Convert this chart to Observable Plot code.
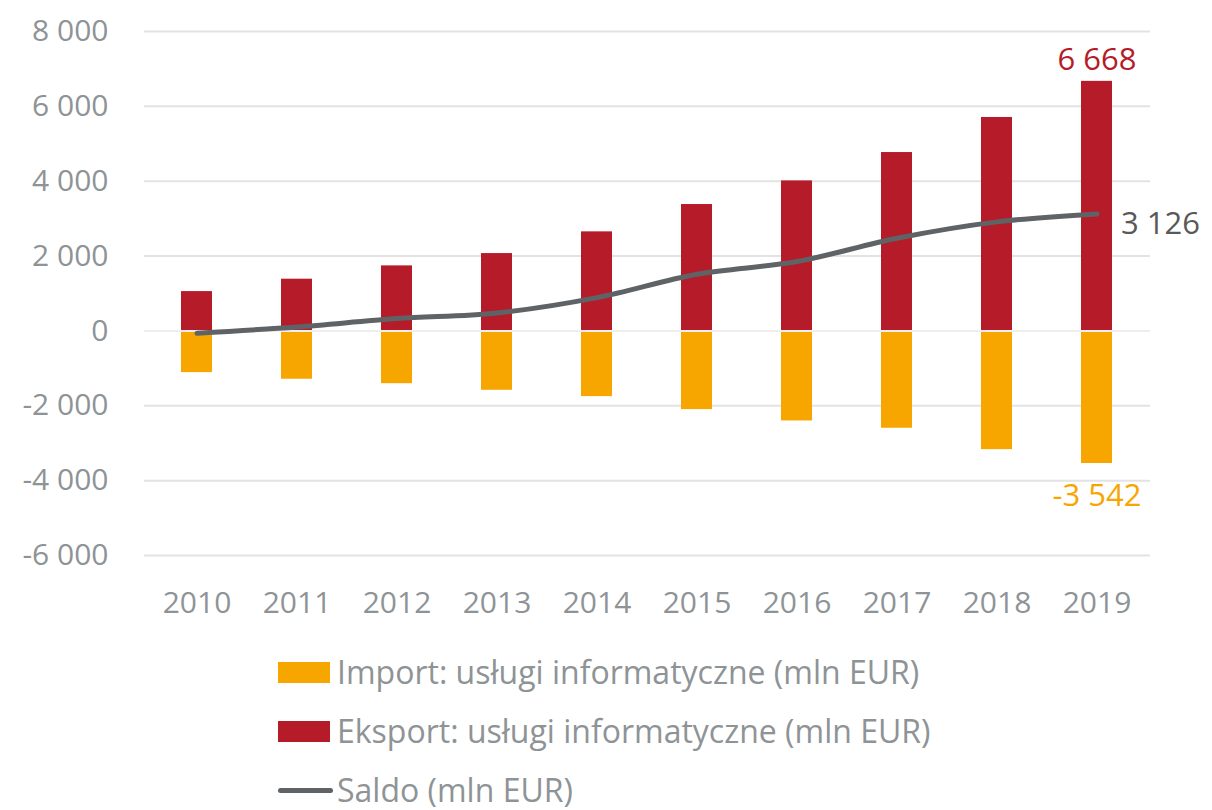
<!DOCTYPE html>
<html>
<head>
<meta charset="utf-8">
<script src="https://cdn.jsdelivr.net/npm/d3@7"></script>
<script src="https://cdn.jsdelivr.net/npm/@observablehq/plot@0.6"></script>
<style>
  html, body { margin: 0; padding: 0; background: #fff; }
  body { width: 1212px; height: 810px; position: relative; overflow: hidden; font-family: "Open Sans", Lato, sans-serif; }
  #chart { position: absolute; left: 0; top: 0; }
  .legend { position: absolute; left: 278px; top: 652px; color: #8e9396; font-size: 32px; font-family: "Open Sans", Lato, sans-serif; }
  .item { display: flex; align-items: center; height: 40px; margin-bottom: 19px; white-space: nowrap; line-height: 40px; }
  .sw { width: 52px; height: 21px; margin-right: 7px; flex: none; }
  .ln { width: 55px; height: 5px; border-radius: 3px; background: #5f6366; margin-right: 4px; flex: none; }
</style>
</head>
<body>
<div id="chart"></div>
<div class="legend">
  <div class="item"><span class="sw" style="background:#F7A600"></span><span>Import: usługi informatyczne (mln EUR)</span></div>
  <div class="item"><span class="sw" style="background:#B51B29"></span><span>Eksport: usługi informatyczne (mln EUR)</span></div>
  <div class="item"><span class="ln"></span><span>Saldo (mln EUR)</span></div>
</div>
<script>
const years = ["2010","2011","2012","2013","2014","2015","2016","2017","2018","2019"];
const eksport = [1051, 1382, 1738, 2067, 2647, 3377, 4008, 4766, 5703, 6668];
const importVals = [-1114, -1291, -1409, -1586, -1755, -2102, -2405, -2600, -3172, -3542];
const saldo = [-62, 107, 329, 481, 891, 1515, 1853, 2477, 2914, 3126];
const yTicks = [-6000, -4000, -2000, 0, 2000, 4000, 6000, 8000];

const fmt = v => d3.format(",")(v).replace(/,/g, " ").replace("−", "-");

const exp = years.map((y, i) => ({year: y, value: eksport[i]}));
const imp = years.map((y, i) => ({year: y, value: importVals[i]}));
const sal = years.map((y, i) => ({year: y, value: saldo[i]}));
const last = years.length - 1;

const chart = Plot.plot({
  width: 1212,
  height: 640,
  marginLeft: 144,
  marginRight: 62,
  marginTop: 31,
  marginBottom: 85,
  style: {fontFamily: "'Open Sans', Lato, sans-serif", fontSize: "30px", color: "#8e9396", background: "#fff"},
  x: {domain: years, paddingInner: 0.685, paddingOuter: 0.3425, label: null},
  y: {domain: [-6000, 8000], label: null},
  marks: [
    Plot.ruleY(yTicks, {stroke: "#e3e3e3", strokeWidth: 2}),
    Plot.barY(exp, {x: "year", y1: 0, y2: "value", fill: "#B51B29"}),
    Plot.barY(imp, {x: "year", y1: 0, y2: "value", fill: "#F7A600"}),
    Plot.ruleY([0], {stroke: "#eeeeee", strokeWidth: 2}),
    Plot.lineY(sal, {x: "year", y: "value", stroke: "#5f6366", strokeWidth: 5, curve: "monotone-x", strokeLinecap: "round"}),
    Plot.axisY({ticks: yTicks, tickSize: 0, tickPadding: 36, tickFormat: fmt, fill: "#8e9396", fontSize: 30}),
    Plot.axisX({tickSize: 0, tickPadding: 36, fill: "#8e9396", fontSize: 30}),
    Plot.text([exp[last]], {x: "year", y: "value", text: d => fmt(d.value), dy: -21, fill: "#B51B29", fontSize: 31}),
    Plot.text([imp[last]], {x: "year", y: "value", text: d => fmt(d.value), dy: 33, fill: "#F7A600", fontSize: 31}),
    Plot.text([sal[last]], {x: "year", y: "value", text: d => fmt(d.value), dx: 24, dy: 10, textAnchor: "start", fill: "#595959", fontSize: 31})
  ]
});
document.getElementById("chart").appendChild(chart);
</script>
</body>
</html>
